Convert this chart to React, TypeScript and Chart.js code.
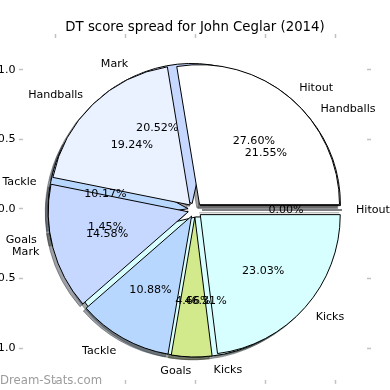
import React, { useEffect, useRef } from 'react';
import { Chart, registerables, ArcElement } from 'chart.js';

Chart.register(...registerables);

// ---- data ----
const CATEGORIES = ['Hitout', 'Handballs', 'Mark', 'Tackle', 'Goals', 'Kicks'];
const SPREAD_TOP = [27.6, 19.24, 14.58, 10.88, 4.66, 23.03];
const SPREAD_UNDER = [0.0, 21.55, 20.52, 10.17, 1.45, 46.31];
const AXIS_TICKS = [-1, -0.5, 0, 0.5, 1];
const AXIS_TICK_LABELS = ['\u22121.0', '\u22120.5', '0.0', '0.5', '1.0'];
const TITLE = 'DT score spread for John Ceglar (2014)';
const WATERMARK = 'Dream-Stats.com';

// ---- style ----
const SLICE_COLORS = ['#ffffff', '#eaf1ff', '#c6d8ff', '#b8d7ff', '#d2ea8c', '#d8ffff'];
const FONT = '"DejaVu Sans", sans-serif';
const LABEL_SIZE = 11.1;
const TITLE_SIZE = 13.3;
const SIZE = 390;
const RADIUS = 140;
const CENTER_X = 195;
const CENTER_Y = 210;
const EXPLODE = 0.05;
const SHADOW_SHIFT = 0.02;
const AXIS_LIMIT = 1.2286;
const TICK_COLOR = '#c2c2c2';
const TITLE_PAD_TOP = 19.5;

function rev(a: any[]) {
  return a.slice().reverse();
}

function shadowOf(hex: string) {
  const n = parseInt(hex.slice(1), 16);
  const r = ((n >> 16) & 255) * 0.3;
  const g = ((n >> 8) & 255) * 0.3;
  const b = (n & 255) * 0.3;
  return `rgba(${r.toFixed(0)},${g.toFixed(0)},${b.toFixed(0)},0.5)`;
}

function padFor(cx: number, cy: number) {
  return {
    left: Math.max(0, 2 * cx - SIZE),
    right: Math.max(0, SIZE - 2 * cx),
    top: Math.max(0, 2 * cy - SIZE),
    bottom: Math.max(0, SIZE - 2 * cy),
  };
}

// translate every slice outward along its mid angle (matplotlib "explode")
function explodePlugin() {
  return {
    id: 'explodeSlices',
    afterUpdate(chart: any) {
      const meta = chart.getDatasetMeta(0);
      meta.data.forEach((arc: any) => {
        arc.draw = function (this: any, ctx: CanvasRenderingContext2D) {
          const mid = (this.startAngle + this.endAngle) / 2;
          const shift = EXPLODE * this.outerRadius;
          ctx.save();
          ctx.translate(Math.cos(mid) * shift, Math.sin(mid) * shift);
          if (this.circumference > 0) {
            ArcElement.prototype.draw.call(this, ctx);
          } else {
            ctx.beginPath();
            ctx.moveTo(this.x, this.y);
            ctx.lineTo(
              this.x + Math.cos(this.startAngle) * this.outerRadius,
              this.y + Math.sin(this.startAngle) * this.outerRadius
            );
            ctx.strokeStyle = this.options.borderColor;
            ctx.lineWidth = this.options.borderWidth;
            ctx.stroke();
          }
          ctx.restore();
        };
      });
    },
  };
}

function labelPlugin(others: any[]) {
  return {
    id: 'pieLabels',
    afterDraw(chart: any) {
      const ctx: CanvasRenderingContext2D = chart.ctx;
      ctx.save();
      ctx.font = `${LABEL_SIZE}px ${FONT}`;
      ctx.fillStyle = '#000';
      ctx.textBaseline = 'alphabetic';
      const dy = LABEL_SIZE * 0.3;
      [...others, chart].forEach((c: any) => {
        const meta = c.getDatasetMeta(0);
        const values: number[] = c.data.datasets[0].data;
        const total = values.reduce((s, v) => s + v, 0);
        meta.data.forEach((arc: any, i: number) => {
          const mid = (arc.startAngle + arc.endAngle) / 2;
          const R = arc.outerRadius;
          const e = EXPLODE * R;
          const cos = Math.cos(mid);
          const sin = Math.sin(mid);
          const lr = 1.1 * R + e;
          ctx.textAlign = cos > 0 ? 'left' : 'right';
          ctx.fillText(String(c.data.labels[i]), arc.x + cos * lr, arc.y + sin * lr + dy);
          const pr = 0.6 * R + e;
          ctx.textAlign = 'center';
          ctx.fillText(((values[i] / total) * 100).toFixed(2) + '%', arc.x + cos * pr, arc.y + sin * pr + dy);
        });
      });
      ctx.restore();
    },
  };
}

function pieConfig(values: number[], colors: string[], borders: string[] | string, center: [number, number], plugins: any[]) {
  return {
    type: 'pie',
    data: {
      labels: rev(CATEGORIES),
      datasets: [
        {
          data: rev(values),
          backgroundColor: rev(colors),
          borderColor: Array.isArray(borders) ? rev(borders) : borders,
          borderWidth: 1,
          borderJoinStyle: 'miter',
          radius: RADIUS,
          hoverOffset: 0,
        },
      ],
    },
    options: {
      animation: false,
      responsive: false,
      events: [],
      rotation: 90,
      layout: { padding: padFor(center[0], center[1]) },
      plugins: { legend: { display: false }, tooltip: { enabled: false }, title: { display: false } },
    },
    plugins: [explodePlugin(), ...plugins],
  } as any;
}

const TITLE_BOX = TITLE_SIZE * 1.2 + TITLE_PAD_TOP;
const AREA_LEFT = CENTER_X - AXIS_LIMIT * RADIUS;
const AREA_RIGHT = CENTER_X + AXIS_LIMIT * RADIUS;
const AREA_TOP = CENTER_Y - AXIS_LIMIT * RADIUS;
const AREA_BOTTOM = CENTER_Y + AXIS_LIMIT * RADIUS;

function axisScale(axis: 'x' | 'y', position: string, showLabels: boolean, size: number) {
  return {
    type: 'linear',
    axis,
    position,
    min: -AXIS_LIMIT,
    max: AXIS_LIMIT,
    bounds: 'data',
    afterBuildTicks: (s: any) => {
      s.ticks = AXIS_TICKS.map((v) => ({ value: v }));
    },
    afterFit: (s: any) => {
      if (axis === 'x') s.height = size;
      else s.width = size;
    },
    grid: {
      display: true,
      drawOnChartArea: false,
      drawTicks: true,
      tickLength: 4,
      color: TICK_COLOR,
      tickColor: TICK_COLOR,
      tickWidth: 1.5,
    },
    border: { display: false },
    ticks: {
      display: showLabels,
      autoSkip: false,
      maxRotation: 0,
      padding: axis === 'x' ? 3 : 3.5,
      color: '#000',
      font: { family: FONT, size: LABEL_SIZE },
      callback: (_v: any, i: number) => AXIS_TICK_LABELS[i],
    },
  };
}

const watermarkPlugin = {
  id: 'watermark',
  afterDraw(chart: any) {
    const ctx: CanvasRenderingContext2D = chart.ctx;
    ctx.save();
    ctx.font = `11.7px ${FONT}`;
    ctx.fillStyle = '#9c9c9c';
    ctx.textAlign = 'left';
    ctx.textBaseline = 'alphabetic';
    ctx.fillText(WATERMARK, 0, 384);
    ctx.restore();
  },
};

const canvasStyle: React.CSSProperties = {
  position: 'absolute',
  left: 0,
  top: 0,
  width: SIZE,
  height: SIZE,
};

export default function App() {
  const baseRef = useRef<HTMLCanvasElement>(null);
  const shadowUnderRef = useRef<HTMLCanvasElement>(null);
  const shadowTopRef = useRef<HTMLCanvasElement>(null);
  const underRef = useRef<HTMLCanvasElement>(null);
  const topRef = useRef<HTMLCanvasElement>(null);

  useEffect(() => {
    const base = new Chart(baseRef.current as HTMLCanvasElement, {
      type: 'scatter',
      data: { datasets: [{ data: [] }] },
      options: {
        animation: false,
        responsive: false,
        events: [],
        layout: { padding: 0, autoPadding: false },
        plugins: {
          legend: { display: false },
          tooltip: { enabled: false },
          title: {
            display: true,
            text: TITLE,
            color: '#000',
            font: { family: FONT, size: TITLE_SIZE, weight: 'normal', lineHeight: 1.2 },
            padding: { top: TITLE_PAD_TOP, bottom: 0 },
          },
        },
        scales: {
          x: axisScale('x', 'bottom', true, SIZE - AREA_BOTTOM),
          x2: axisScale('x', 'top', false, AREA_TOP - TITLE_BOX),
          y: axisScale('y', 'left', true, AREA_LEFT),
          y2: axisScale('y', 'right', false, SIZE - AREA_RIGHT),
        },
      },
      plugins: [watermarkPlugin],
    } as any);

    const shadowColors = SLICE_COLORS.map(shadowOf);
    const sx = CENTER_X - SHADOW_SHIFT * RADIUS;
    const sy = CENTER_Y + SHADOW_SHIFT * RADIUS;
    const shadowUnder = new Chart(
      shadowUnderRef.current as HTMLCanvasElement,
      pieConfig(SPREAD_UNDER, shadowColors, shadowColors, [sx, sy], [])
    );
    const shadowTop = new Chart(
      shadowTopRef.current as HTMLCanvasElement,
      pieConfig(SPREAD_TOP, shadowColors, shadowColors, [sx, sy], [])
    );
    const under = new Chart(
      underRef.current as HTMLCanvasElement,
      pieConfig(SPREAD_UNDER, SLICE_COLORS, '#000', [CENTER_X, CENTER_Y], [])
    );
    const top = new Chart(
      topRef.current as HTMLCanvasElement,
      pieConfig(SPREAD_TOP, SLICE_COLORS, '#000', [CENTER_X, CENTER_Y], [labelPlugin([under])])
    );

    return () => {
      top.destroy();
      under.destroy();
      shadowTop.destroy();
      shadowUnder.destroy();
      base.destroy();
    };
  }, []);

  return (
    <div style={{ position: 'absolute', left: 0, top: 0, width: SIZE, height: SIZE, overflow: 'hidden', background: '#fff' }}>
      <canvas ref={baseRef} width={SIZE} height={SIZE} style={canvasStyle} />
      <canvas ref={shadowUnderRef} width={SIZE} height={SIZE} style={canvasStyle} />
      <canvas ref={shadowTopRef} width={SIZE} height={SIZE} style={canvasStyle} />
      <canvas ref={underRef} width={SIZE} height={SIZE} style={canvasStyle} />
      <canvas ref={topRef} width={SIZE} height={SIZE} style={canvasStyle} />
    </div>
  );
}
